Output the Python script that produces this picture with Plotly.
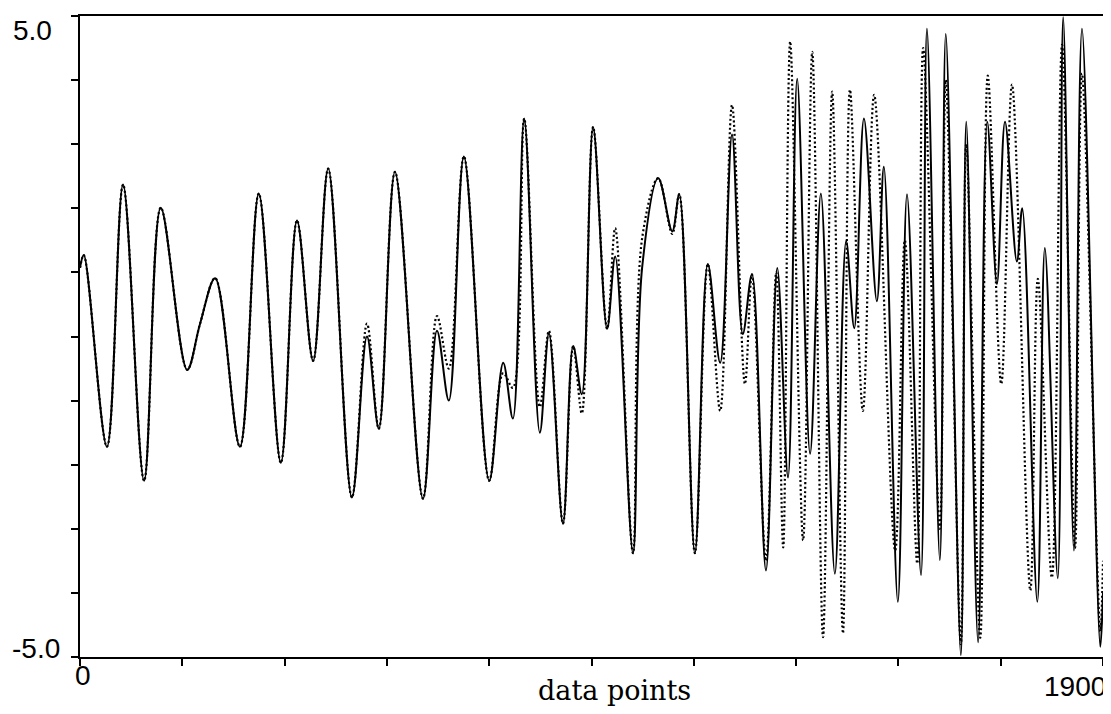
import plotly.graph_objects as go

# Solid series: extrema (x in data points, y value)
solid_x = [0, 7, 50, 80, 119, 150, 199, 223, 251, 297, 332, 373, 403, 433, 461, 505,
           533, 555, 585, 637, 663, 685, 713, 760, 786, 804, 825, 854, 871, 897, 916,
           932, 953, 979, 994, 1027, 1044, 1074, 1100, 1113, 1142, 1166, 1189, 1211,
           1231, 1248, 1274, 1295, 1315, 1332, 1356, 1376, 1402, 1423, 1438, 1456,
           1480, 1493, 1519, 1536, 1562, 1573, 1597, 1608, 1636, 1646, 1668, 1685,
           1703, 1718, 1740, 1750, 1778, 1792, 1816, 1826, 1846, 1861, 1895, 1900]
solid_y = [1.07, 1.27, -1.72, 2.37, -2.25, 2.01, -0.52, 0.2, 0.91, -1.72, 2.23, -1.97,
           1.81, -0.38, 2.62, -2.51, 0.0, -1.44, 2.57, -2.53, 0.09, -1.0, 2.81, -2.25,
           -0.41, -1.28, 3.40, -1.5, 0.05, -2.92, -0.15, -0.9, 3.27, 0.12, 1.25, -3.38,
           1.07, 2.47, 1.64, 2.22, -3.38, 1.13, -0.41, 3.15, 0.04, 0.97, -3.65, 1.07,
           -2.2, 4.02, -1.83, 2.23, -3.7, 1.49, 0.13, 3.40, 0.55, 2.65, -4.14, 2.22,
           -3.72, 4.8, -3.49, 4.72, -4.97, 3.35, -4.77, 3.35, 0.82, 3.35, 1.17, 2.0,
           -4.14, 1.38, -3.77, 4.98, -3.34, 4.8, -4.84, -4.0]

# Dotted series
dotted_x = [0, 7, 50, 80, 119, 150, 199, 223, 251, 297, 332, 373, 403, 433, 461, 505,
            533, 555, 585, 637, 663, 685, 713, 760, 786, 804, 825, 854, 871, 897, 916,
            932, 953, 979, 994, 1027, 1044, 1074, 1100, 1113, 1142, 1166, 1189, 1211,
            1235, 1248, 1274, 1293, 1306, 1319, 1343, 1360, 1380, 1397, 1417, 1430,
            1454, 1475, 1514, 1532, 1555, 1566, 1597, 1608, 1636, 1646, 1672, 1686,
            1711, 1731, 1765, 1779, 1805, 1824, 1848, 1861, 1895, 1900]
dotted_y = [1.07, 1.27, -1.72, 2.37, -2.25, 2.01, -0.52, 0.2, 0.91, -1.72, 2.23, -1.97,
            1.81, -0.38, 2.62, -2.51, 0.2, -1.44, 2.57, -2.53, 0.32, -0.5, 2.81, -2.25,
            -0.57, -0.8, 3.40, -1.1, 0.09, -2.92, -0.15, -1.2, 3.27, 0.12, 1.69, -3.38,
            1.53, 2.47, 1.6, 2.22, -3.38, 1.13, -1.16, 3.61, -0.74, 0.97, -3.5, 1.0,
            -3.29, 4.6, -3.18, 4.44, -4.69, 3.82, -4.63, 3.85, -1.16, 3.77, -3.34, 1.5,
            -3.54, 4.5, -3.0, 4.0, -4.8, 3.0, -4.7, 4.07, -0.74, 3.93, -3.96, 0.9,
            -3.76, 4.55, -3.3, 4.1, -4.6, -3.5]

x_ticks = [0, 190, 380, 570, 760, 950, 1140, 1330, 1520, 1710, 1900]
y_ticks = [-5, -4, -3, -2, -1, 0, 1, 2, 3, 4, 5]

fig = go.Figure()
fig.add_trace(go.Scatter(x=dotted_x, y=dotted_y, mode="lines",
                         line=dict(color="black", width=2.2, dash="2px,2.5px",
                                   shape="spline", smoothing=1.0),
                         showlegend=False))
fig.add_trace(go.Scatter(x=solid_x, y=solid_y, mode="lines",
                         line=dict(color="black", width=2,
                                   shape="spline", smoothing=1.0),
                         showlegend=False))

axis_common = dict(showgrid=False, zeroline=False, showline=True, linecolor="black",
                   linewidth=2, mirror=True, ticks="outside", ticklen=7,
                   tickwidth=1.5, tickcolor="black", showticklabels=False)
fig.update_xaxes(range=[0, 1900], tickvals=x_ticks, **axis_common)
fig.update_yaxes(range=[-5, 5], tickvals=y_ticks, **axis_common)

lab = dict(family="Liberation Sans, Arial, sans-serif", size=28, color="black")
fig.add_annotation(text="5.0", xref="paper", yref="y", x=0, y=5, xanchor="right",
                   yanchor="top", xshift=-26, yshift=3, showarrow=False, font=lab)
fig.add_annotation(text="-5.0", xref="paper", yref="y", x=0, y=-5, xanchor="right",
                   yanchor="bottom", xshift=-18, yshift=-9, showarrow=False, font=lab)
fig.add_annotation(text="0", xref="x", yref="paper", x=0, y=0, xanchor="left",
                   yanchor="top", xshift=-7, yshift=-1, showarrow=False, font=lab)
fig.add_annotation(text="1900", xref="x", yref="paper", x=1900, y=0, xanchor="right",
                   yanchor="top", xshift=5, yshift=-12, showarrow=False, font=lab)
fig.add_annotation(text="data points", xref="paper", yref="paper", x=(614 - 80) / 1023,
                   y=0, xanchor="center", yanchor="top", yshift=-16, showarrow=False,
                   font=dict(family="DejaVu Serif, serif", size=27, color="black"))

fig.update_layout(width=1103, height=706, paper_bgcolor="white", plot_bgcolor="white",
                  margin=dict(l=72, r=8, t=6, b=57))
fig.write_html("out.html")
